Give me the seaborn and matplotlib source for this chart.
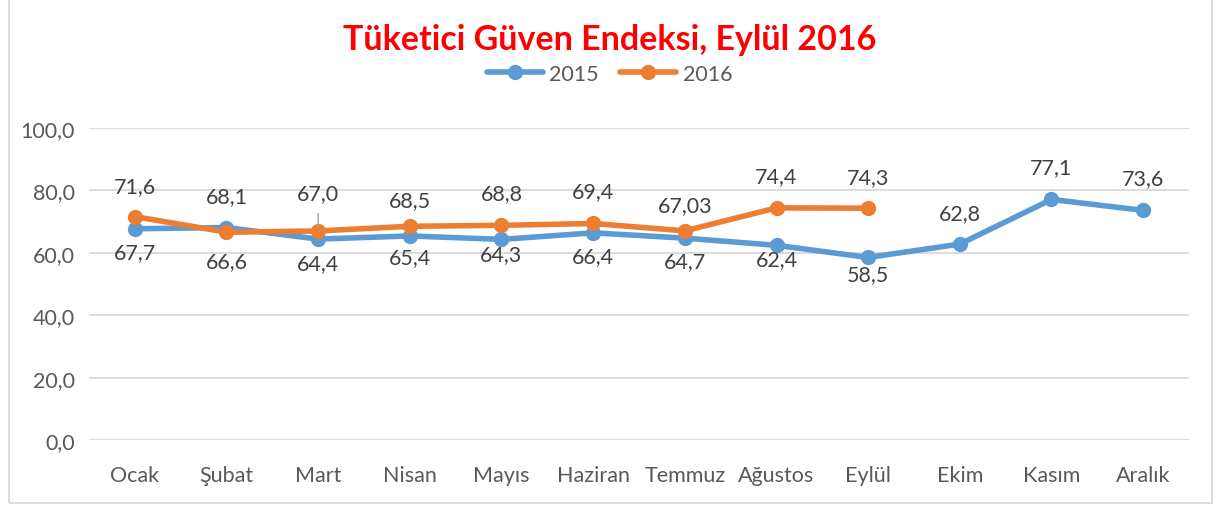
import matplotlib
matplotlib.use("Agg")
import matplotlib.pyplot as plt
import seaborn as sns
import pandas as pd
from matplotlib.patches import Rectangle
from matplotlib.lines import Line2D

months = ["Ocak", "Şubat", "Mart", "Nisan", "Mayıs", "Haziran", "Temmuz",
          "Ağustos", "Eylül", "Ekim", "Kasım", "Aralık"]
v2015 = [67.7, 68.1, 64.4, 65.4, 64.3, 66.4, 64.7, 62.4, 58.5, 62.8, 77.1, 73.6]
v2016 = [71.6, 66.6, 67.0, 68.5, 68.8, 69.4, 67.03, 74.4, 74.3]
lab2015 = ["67,7", "68,1", "64,4", "65,4", "64,3", "66,4", "64,7", "62,4", "58,5", "62,8", "77,1", "73,6"]
lab2016 = ["71,6", "66,6", "67,0", "68,5", "68,8", "69,4", "67,03", "74,4", "74,3"]
# label vertical offsets in pixels (positive = above point)
off2015 = [-23, 31, -24, -21, -15, -23, -23, -14, -17, 31, 32, 32]
off2016 = [31, -29, 38, 26, 32, 32, 26, 32, 31]
yticks = [0, 20, 40, 60, 80, 100]

df = pd.concat([
    pd.DataFrame({"idx": range(len(v2015)), "value": v2015, "year": "2015"}),
    pd.DataFrame({"idx": range(len(v2016)), "value": v2016, "year": "2016"}),
])

sns.set_theme(style="white")
plt.rcParams["font.family"] = ["Lato", "DejaVu Sans"]

fig = plt.figure(figsize=(12.19, 5.06), dpi=100)
ax = fig.add_axes([89/1219, 1-441/506, (1189-89)/1219, (441-129)/506])

colors = {"2015": "#5B9BD5", "2016": "#ED7D31"}
sns.lineplot(data=df, x="idx", y="value", hue="year", palette=colors,
             marker="o", markersize=11, linewidth=4, markeredgewidth=0,
             sort=False, ax=ax, legend=False)

ax.set_xlim(-0.5, 11.5)
ax.set_ylim(0, 100)
ax.set_yticks(yticks)
ax.set_yticklabels([f"{t:.1f}".replace(".", ",") for t in yticks])
ax.set_xticks(range(len(months)))
ax.set_xticklabels(months)
ax.set_xlabel("")
ax.set_ylabel("")
ax.grid(axis="y", color="#D9D9D9", linewidth=1.3)
ax.set_axisbelow(True)
for s in ax.spines.values():
    s.set_visible(False)
ax.tick_params(axis="both", length=0, labelsize=15.5, labelcolor="#595959")
ax.tick_params(axis="x", pad=18)
ax.tick_params(axis="y", pad=10)

tc = "#404040"
for i, (v, l, o) in enumerate(zip(v2015, lab2015, off2015)):
    ax.annotate(l, (i, v), xytext=(0, o), textcoords="offset pixels",
                ha="center", va="center", fontsize=15.5, color=tc)
for i, (v, l, o) in enumerate(zip(v2016, lab2016, off2016)):
    ax.annotate(l, (i, v), xytext=(0, o), textcoords="offset pixels",
                ha="center", va="center", fontsize=15.5, color=tc)
# leader line for Mart 2016
ax.annotate("", (2, v2016[2] + 0.5), xytext=(2, v2016[2] + 6.5),
            arrowprops=dict(arrowstyle="-", color="#A6A6A6", lw=1))

fig.text(0.5, 1-40/506, "Tüketici Güven Endeksi, Eylül 2016", ha="center", va="center",
         fontsize=24.5, fontweight="bold", color="#FF0000")

handles = [Line2D([], [], color=colors[k], lw=4, marker="o", markersize=11, markeredgewidth=0) for k in colors]
fig.legend(handles, list(colors.keys()), loc="center", bbox_to_anchor=(0.5, 1-75/506),
           ncol=2, frameon=False, fontsize=15.5, labelcolor="#595959",
           handlelength=2.6, columnspacing=1.0, handletextpad=0.3)

fig.patches.append(Rectangle((9/1219, 2/506), (1212-9)/1219, 1.2, transform=fig.transFigure,
                             fill=False, edgecolor="#D9D9D9", linewidth=1.2))

fig.savefig("out.png", dpi=100)
